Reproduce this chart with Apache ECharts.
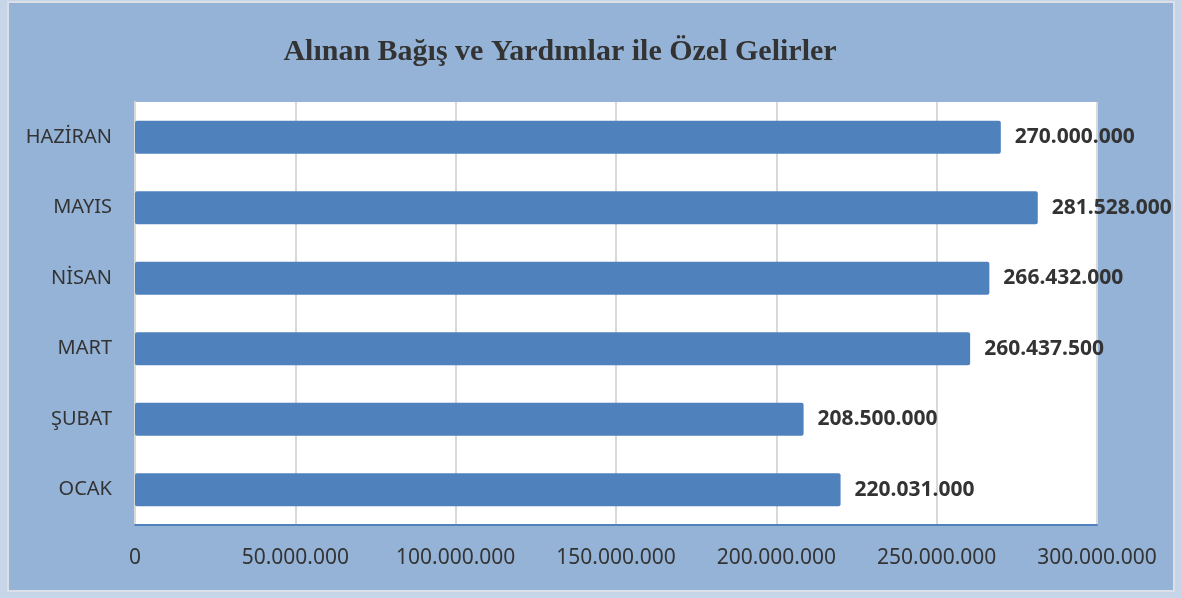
<!DOCTYPE html>
<html>
<head>
<meta charset="utf-8">
<script src="https://cdn.jsdelivr.net/npm/echarts@6/dist/echarts.min.js"></script>
<style>
  html, body { margin: 0; padding: 0; background: #c7d5e9; width: 1181px; height: 598px; overflow: hidden; }
  #frame { position: absolute; left: 7px; top: 1px; width: 1168px; height: 591px; border: 2px solid #dcdfe4; box-sizing: border-box; }
  #main { width: 1164px; height: 587px; }
</style>
</head>
<body>
<div id="frame"><div id="main"></div></div>
<script>
var months = ['OCAK', 'ŞUBAT', 'MART', 'NİSAN', 'MAYIS', 'HAZİRAN'];
var values = [220031000, 208500000, 260437500, 266432000, 281528000, 270000000];

function fmt(v) {
    return String(Math.round(v)).replace(/\B(?=(\d{3})+(?!\d))/g, '.');
}

var myChart = echarts.init(document.getElementById('main'));
var option = {
    backgroundColor: '#95b3d7',
    title: {
        text: 'Alınan Bağış ve Yardımlar ile Özel Gelirler',
        left: 546,
        textAlign: 'center',
        top: 29,
        textStyle: {
            fontFamily: 'Liberation Serif',
            fontWeight: 'bold',
            fontSize: 30,
            color: '#333333'
        }
    },
    grid: {
        left: 126,
        top: 99,
        width: 962,
        height: 423,
        show: true,
        backgroundColor: '#ffffff',
        borderWidth: 0
    },
    xAxis: {
        type: 'value',
        min: 0,
        max: 300000000,
        interval: 50000000,
        axisLine: { show: true, lineStyle: { color: '#4f81bd', width: 2 } },
        axisTick: { show: false },
        splitLine: { lineStyle: { color: '#d9d9d9', width: 2 } },
        axisLabel: {
            formatter: fmt,
            margin: 23,
            fontFamily: 'Noto Sans',
            fontSize: 21,
            color: '#333333'
        }
    },
    yAxis: {
        type: 'category',
        data: months,
        axisLine: { show: true, lineStyle: { color: '#d9d9d9', width: 2 } },
        axisTick: { show: false },
        axisLabel: {
            margin: 23,
            fontFamily: 'Noto Sans',
            fontSize: 20,
            color: '#333333'
        }
    },
    series: [
        {
            type: 'bar',
            data: values,
            barWidth: 33,
            itemStyle: {
                color: '#4f81bd',
                borderRadius: 2
            },
            label: {
                show: true,
                position: 'right',
                distance: 14,
                formatter: function (p) { return fmt(p.value); },
                fontFamily: 'Noto Sans',
                fontWeight: 'bold',
                fontSize: 21,
                color: '#333333'
            }
        }
    ]
};
myChart.setOption(option);
</script>
</body>
</html>
